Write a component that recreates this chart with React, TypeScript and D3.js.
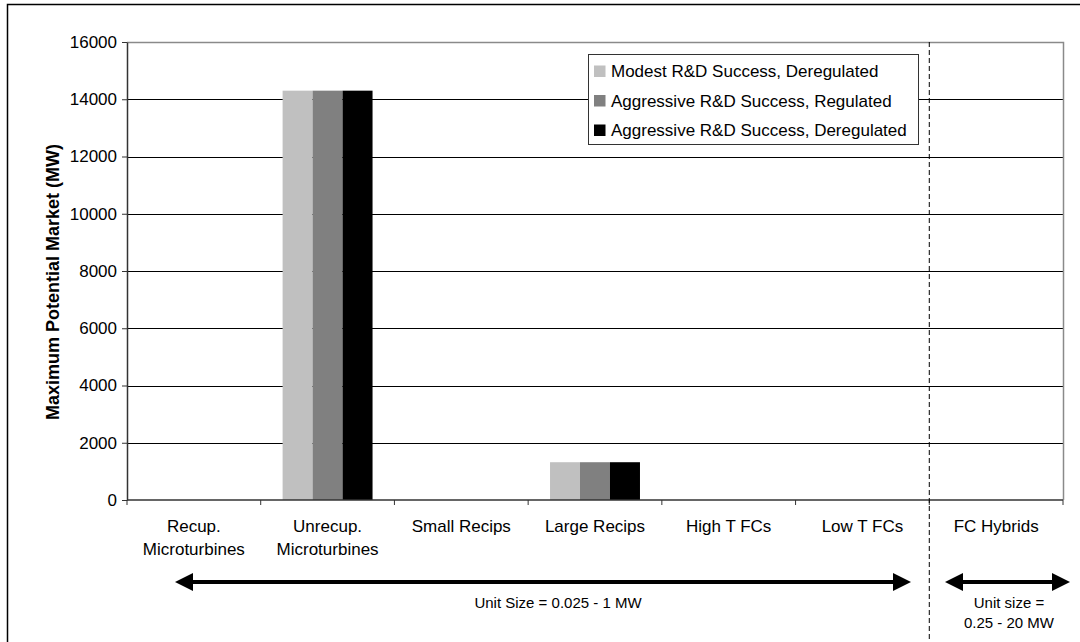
import React, { useEffect, useRef } from 'react';
import * as d3 from 'd3';

const categories = [
  ['Recup.', 'Microturbines'],
  ['Unrecup.', 'Microturbines'],
  ['Small Recips'],
  ['Large Recips'],
  ['High T FCs'],
  ['Low T FCs'],
  ['FC Hybrids'],
];
const seriesNames = [
  'Modest R&D Success, Deregulated',
  'Aggressive R&D Success, Regulated',
  'Aggressive R&D Success, Deregulated',
];
const seriesColors = ['#c0c0c0', '#808080', '#000000'];
const modestDereg = [0, 14300, 0, 1320, 0, 0, 0];
const aggressiveReg = [0, 14300, 0, 1320, 0, 0, 0];
const aggressiveDereg = [0, 14300, 0, 1320, 0, 0, 0];
const yTicks = [0, 2000, 4000, 6000, 8000, 10000, 12000, 14000, 16000];

const App: React.FC = () => {
  const svgRef = useRef<SVGSVGElement>(null);

  useEffect(() => {
    if (!svgRef.current) return;
    const svg = d3.select(svgRef.current);
    svg.selectAll('*').remove();

    const width = 1080;
    const height = 642;
    const left = 127, right = 1063, top = 42, bottom = 500;
    const font = 'Arial, "Liberation Sans", sans-serif';
    const series = [modestDereg, aggressiveReg, aggressiveDereg];

    svg.append('rect').attr('width', width).attr('height', height).attr('fill', '#fff');

    // outer chart frame
    svg.append('rect')
      .attr('x', 7.5).attr('y', 4.5)
      .attr('width', width + 10).attr('height', height + 10)
      .attr('fill', 'none').attr('stroke', '#000').attr('stroke-width', 1.5);

    const x = d3.scaleBand<number>()
      .domain(d3.range(categories.length))
      .range([left, right]);
    const y = d3.scaleLinear().domain([0, 16000]).range([bottom, top]);
    const inner = d3.scaleBand<number>()
      .domain(d3.range(seriesNames.length))
      .range([0, x.bandwidth()])
      .paddingOuter(0.73);

    // gridlines
    svg.append('g').selectAll('line')
      .data(yTicks.filter(t => t > 0 && t < 16000))
      .join('line')
      .attr('x1', left).attr('x2', right)
      .attr('y1', d => Math.round(y(d)) + 0.5).attr('y2', d => Math.round(y(d)) + 0.5)
      .attr('stroke', '#000').attr('stroke-width', 1);

    // plot frame top/right
    svg.append('path')
      .attr('d', `M${left},${top + 0.5}H${right + 0.5}V${bottom}`)
      .attr('fill', 'none').attr('stroke', '#8a8a8a').attr('stroke-width', 1.5);

    // bars
    series.forEach((vals, si) => {
      svg.append('g').selectAll('rect')
        .data(vals.map((v, i) => ({ v, i })).filter(d => d.v > 0))
        .join('rect')
        .attr('x', d => (x(d.i) as number) + (inner(si) as number))
        .attr('width', inner.bandwidth())
        .attr('y', d => y(d.v))
        .attr('height', d => y(0) - y(d.v))
        .attr('fill', seriesColors[si]);
    });

    // y axis
    const yAxis = svg.append('g')
      .attr('transform', `translate(${left},0)`)
      .call(d3.axisLeft(y).tickValues(yTicks).tickFormat(d3.format('d'))
        .tickSize(5).tickPadding(5).tickSizeOuter(0));
    yAxis.select('.domain').attr('stroke', '#333').attr('stroke-width', 1.5);
    yAxis.selectAll('.tick line').attr('stroke', '#333');
    yAxis.selectAll('text')
      .attr('font-family', font).attr('font-size', 17).attr('fill', '#000');

    // x axis
    svg.append('line')
      .attr('x1', left).attr('x2', right).attr('y1', bottom).attr('y2', bottom)
      .attr('stroke', '#333').attr('stroke-width', 1.5);
    svg.append('g').selectAll('line')
      .data(d3.range(categories.length + 1))
      .join('line')
      .attr('x1', d => left + d * x.step()).attr('x2', d => left + d * x.step())
      .attr('y1', bottom).attr('y2', bottom + 5)
      .attr('stroke', '#333');

    categories.forEach((lines, i) => {
      const cx = (x(i) as number) + x.bandwidth() / 2;
      const t = svg.append('text')
        .attr('x', cx)
        .attr('y', 532)
        .attr('text-anchor', 'middle')
        .attr('font-family', font).attr('font-size', 17).attr('fill', '#000');
      lines.forEach((ln, k) => {
        t.append('tspan')
          .attr('x', cx)
          .attr('dy', k === 0 ? 0 : 23)
          .text(ln);
      });
    });

    // y title
    svg.append('text')
      .attr('transform', `translate(59,282) rotate(-90)`)
      .attr('text-anchor', 'middle')
      .attr('font-family', font).attr('font-size', 18).attr('font-weight', 'bold')
      .text('Maximum Potential Market (MW)');

    // dashed separator
    const sepX = left + 6 * x.step();
    svg.append('line')
      .attr('x1', sepX).attr('x2', sepX).attr('y1', top).attr('y2', height)
      .attr('stroke', '#000').attr('stroke-dasharray', '5,3');

    // legend
    const lg = svg.append('g');
    lg.append('rect')
      .attr('x', 588.5).attr('y', 54.5).attr('width', 330).attr('height', 90)
      .attr('fill', '#fff').attr('stroke', '#333').attr('stroke-width', 1);
    seriesNames.forEach((name, i) => {
      const base = 77 + i * 29.5;
      lg.append('rect')
        .attr('x', 594).attr('y', base - 11.5).attr('width', 11.5).attr('height', 11.5)
        .attr('fill', seriesColors[i]);
      lg.append('text')
        .attr('x', 611).attr('y', base)
        .attr('font-family', font).attr('font-size', 17)
        .text(name);
    });

    // arrows
    const arrow = (x1: number, x2: number, yy: number) => {
      const hl = 18, hw = 9;
      svg.append('line')
        .attr('x1', x1 + hl - 1).attr('x2', x2 - hl + 1).attr('y1', yy).attr('y2', yy)
        .attr('stroke', '#000').attr('stroke-width', 4);
      svg.append('path')
        .attr('d', `M${x1},${yy}L${x1 + hl},${yy - hw}L${x1 + hl},${yy + hw}Z`)
        .attr('fill', '#000');
      svg.append('path')
        .attr('d', `M${x2},${yy}L${x2 - hl},${yy - hw}L${x2 - hl},${yy + hw}Z`)
        .attr('fill', '#000');
    };
    arrow(175, 911, 582);
    arrow(945, 1070, 582);

    svg.append('text')
      .attr('x', 558).attr('y', 608).attr('text-anchor', 'middle')
      .attr('font-family', font).attr('font-size', 15)
      .text('Unit Size = 0.025 - 1 MW');
    const t2 = svg.append('text')
      .attr('text-anchor', 'middle')
      .attr('font-family', font).attr('font-size', 15);
    t2.append('tspan').attr('x', 1009).attr('y', 608).text('Unit size =');
    t2.append('tspan').attr('x', 1009).attr('y', 628).text('0.25 - 20 MW');
  }, []);

  return (
    <svg ref={svgRef} width={1080} height={642}
      style={{ position: 'absolute', left: 0, top: 0, display: 'block' }} />
  );
};

export default App;
